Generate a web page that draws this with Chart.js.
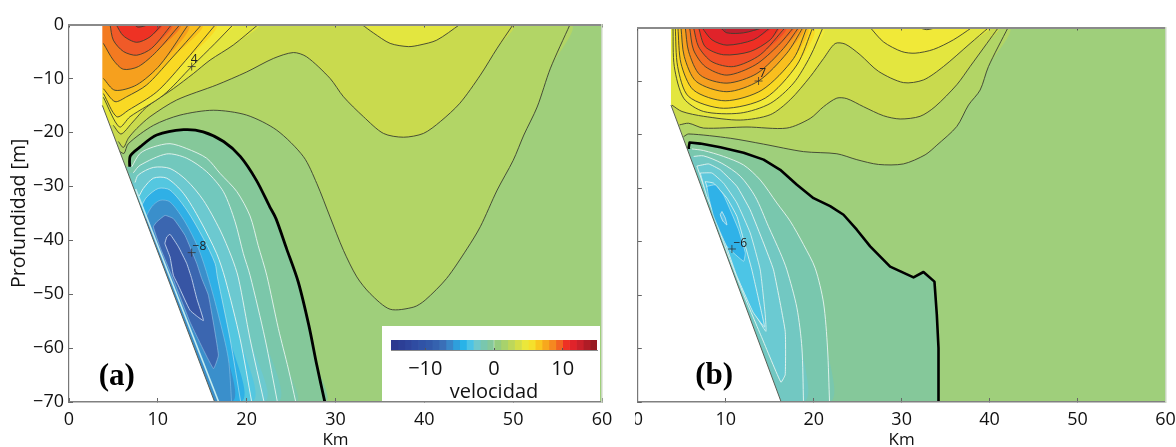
<!DOCTYPE html>
<html><head><meta charset="utf-8">
<style>
html,body{margin:0;padding:0;background:#fff;overflow:hidden;width:1176px;height:447px}
canvas{position:absolute;display:block}
#cA{left:0;top:0}
#cB{left:633px;top:0;clip-path:inset(0 0 0 2px)}
#cC{left:382px;top:326px;background:#fff}
</style>
<script src="https://cdn.jsdelivr.net/npm/chart.js@4/dist/chart.umd.min.js"></script>
</head><body>
<canvas id="cA" width="625" height="447"></canvas>
<canvas id="cB" width="543" height="447"></canvas>
<canvas id="cC" width="218" height="75"></canvas>
<script>
// ---------- axis ticks ----------
const xTicks=[0,10,20,30,40,50,60];
const yTicks=[0,-10,-20,-30,-40,-50,-60,-70];
const barTicks=[-10,0,10];
const axisFont='"Open Sans"';
// ---------- panel (a) : contours [km, depth m] ----------
const aBath=[[3.75,-15],[16.4,-70]];
const aShelf=[[7.5,-30.5],[16.85,-70]];
const aMask=[[3.75,-15],[16.4,-70],[0,-70],[0,0],[3.75,0]];
const aP1=[[5.74,-23.6],[6.2,-23.9],[6.68,-22.1],[9.5,-18.7],[12.5,-16.8],[16.25,-15.9],[20,-16.8],[23.39,-19.6],[26.39,-24.5],[27.9,-29.5],[29.39,-35.7],[30.9,-41.9],[32.4,-46.8],[33.9,-49.9],[36.15,-52.8],[38.8,-52.4],[40.1,-51.1],[42.5,-47.1],[44.8,-41.6],[46.3,-37.5],[48.2,-30.7],[50,-25.2],[51.2,-20.5],[52.7,-15.3],[54.2,-8.1],[56.4,0]];
const aP2=[[5.56,-21.7],[6.12,-22.8],[6.68,-21.1],[7.62,-19.3],[9.12,-17.1],[12.12,-14],[16.63,-11.2],[20,-8.8],[23,-6.3],[25.26,-5.2],[26.76,-6],[29.39,-10],[30.9,-13.4],[33.15,-17.1],[35.4,-20.2],[37.65,-20.9],[39.9,-20.2],[41.8,-18],[44,-14.6],[46.3,-9.4],[48.2,-4.4],[50,0]];
const aP3=[[4.99,-18.7],[5.86,-20.3],[7.06,-18.3],[8.75,-15.3],[11.75,-11.9],[14,-9.1],[15.88,-6.6],[18.5,-3.8],[21.3,0]];
const aP3b=[[32.96,0],[34.3,-1.6],[36.15,-3.5],[38.2,-4.1],[39.5,-3.8],[41.4,-2.9],[44,0]];
const aP4=[[3.87,-13.5],[5.67,-19],[6.87,-17.1],[10.62,-13.1],[13.81,-7.8],[16.44,-3.5],[18.5,0]];
const aP5=[[3.87,-12.8],[5.37,-17.1],[6.68,-15.9],[9.87,-12.5],[12.69,-7.5],[16.5,0]];
const aP6=[[3.87,-11.9],[5.18,-14.3],[6.49,-13.4],[8.75,-11.2],[11.37,-6.6],[14.94,0]];
const aP7=[[3.87,-10],[5.18,-12.2],[7.62,-11.2],[10.25,-7.5],[13.44,0]];
const aP8=[[3.87,-3.5],[4.99,-6.6],[6.12,-8.3],[7.81,-7.8],[9.87,-5],[12.5,0]];
const aP9=[[4.62,0],[4.99,-2.9],[6.12,-5],[7.62,-5.7],[9.31,-4.4],[11.56,0]];
const aP10=[[5.3,0],[6.12,-2.1],[7.62,-3.3],[9.12,-2.3],[10.44,0]];
const aP11=[[7.32,0],[7.81,-0.5],[9.05,0]];
const aZero=[[6.94,-28.2],[6.87,-24.5],[8,-22.7],[9.87,-20.5],[12.9,-19.5],[15.1,-19.9],[17.4,-21.7],[19.3,-24.5],[21.1,-28.9],[22.6,-33.8],[23.3,-36],[24.5,-41.6],[25.8,-47.7],[27,-55.8],[27.9,-63.2],[28.8,-70]];
const aN1=[[7.06,-26.4],[8,-23.9],[9.5,-22.7],[11.37,-22.1],[13.25,-23],[15.5,-24.8],[17,-27.6],[18.9,-31],[20.38,-35.5],[21.3,-41],[22.26,-46.5],[23.57,-56.4],[24.7,-63.9],[25.53,-70]];
const aN2=[[7.24,-27.5],[8,-26.1],[11,-24],[13.25,-24.8],[15.5,-27.3],[17.38,-31],[18.7,-36.6],[19.63,-42.5],[20.38,-46.5],[22.07,-58.3],[23.46,-70]];
const aN3=[[7.43,-29.3],[7.8,-27.9],[9.5,-26.5],[11.37,-26.7],[13.25,-28.9],[15.13,-32.6],[17,-38.1],[18.3,-43.1],[19.07,-47],[20.38,-58.3],[21.96,-70]];
const aN4=[[7.9,-31.8],[8.37,-30.4],[9.5,-28.5],[11,-28.5],[12.88,-31.3],[14.75,-36.3],[16.63,-42.5],[17.57,-47.1],[19.26,-58.3],[20.57,-70]];
const aN5=[[8.2,-33.5],[8.75,-32],[10.06,-30.4],[11.37,-30.7],[13.25,-34.4],[15.13,-39.7],[16.44,-44.3],[16.7,-46.8],[18.13,-58.3],[19.33,-70]];
const aN6=[[8.4,-36.5],[9.31,-33.8],[10.25,-32.6],[11.37,-32.9],[13.06,-36.6],[14.56,-41.5],[15.7,-47.1],[16.82,-53.9],[17.94,-62],[18.3,-70]];
const aN7=[[9.87,-36.6],[10.81,-35.4],[11.75,-36],[13.06,-39.1],[14.38,-44.3],[14.94,-47.1],[15.69,-50.2],[16.82,-61.3],[16.25,-63.8],[13.63,-55.2],[11.7,-47.1],[10.3,-41.5],[9.5,-37.5],[9.87,-36.6]];
const aN8=[[11,-39.4],[11.37,-38.9],[12.31,-41.2],[13.25,-44.3],[13.81,-47.1],[14.38,-50.8],[15.13,-54.9],[13.63,-53],[12.31,-48.4],[11.75,-46.5],[11.37,-43.1],[10.8,-40.6],[11,-39.4]];
const aMarks=[[13.81,-7.8],[13.81,-42.3]];
const aLabels=[[14.1,-6.5,'4'],[14.68,-41.1,'−8']];
const aPanel=[5.37,-65.4,'(a)'];
// ---------- panel (b) ----------
const bBath=[[3.77,-14.5],[16.3,-70]];
const bMask=[[3.77,-14.5],[16.3,-70],[0,-70],[0,0],[3.77,0]];
const bP1=[[5.21,-20.4],[5.78,-19.9],[10.51,-20.7],[14.3,-21.8],[18.84,-23.2],[22.63,-23.6],[24.9,-24.7],[27.37,-25.6],[30.2,-25.5],[32.67,-23.8],[34,-22],[36.27,-18.5],[37.6,-14.5],[38.92,-11.7],[39.87,-7.3],[42.1,0]];
const bP2=[[4.75,-18.2],[5.78,-17.9],[7.48,-18.8],[12.41,-18.6],[16.95,-18.8],[19.6,-17],[21.12,-14.8],[22.63,-13.2],[23.77,-13.3],[25.66,-14.8],[27.94,-16.5],[29.83,-17.1],[32.1,-16.6],[33.8,-14.8],[36.27,-10.7],[37.78,-7.3],[39.68,-3],[41,0]];
const bP3=[[3.88,-14.5],[5.02,-15.7],[7.48,-16.6],[11.65,-17.3],[15.06,-16.3],[17.33,-13.5],[19.6,-9.2],[21.12,-5.8],[22.44,-3],[23.58,-3.1],[25.28,-5.1],[27.37,-8.2],[30.2,-10.3],[32.48,-9.8],[34.75,-7.3],[37.78,-3],[39.9,0]];
const bBlob4=[[26.42,0],[27.94,-2.7],[30.02,-4.5],[31.53,-4.8],[33.62,-4.1],[35.89,-2.3],[38,0]];
const bBlob5=[[31.91,0],[32.86,-0.4],[34,0]];
const bJ=[[4,0],[4.15,-7.3],[5.21,-13.2],[7.48,-15.7],[11.65,-16],[15.06,-14.2],[17.71,-10.4],[19.6,-5.4],[21.05,0]];
const bI=[[4.26,0],[4.53,-7.3],[5.78,-12.9],[9.75,-15.1],[14.49,-13.2],[18.09,-7],[19.9,0]];
const bH=[[4.56,0],[4.91,-6.7],[6.34,-11.7],[9.94,-13.7],[14.11,-11.7],[17.71,-5.8],[19.22,0]];
const bG=[[4.91,0],[5.28,-5.4],[6.65,-10.1],[10.13,-12],[13.73,-10],[16.95,-4.8],[18.78,0]];
const bF=[[5.4,0],[5.78,-4.5],[7.1,-8.9],[10.13,-10.4],[13.54,-8.6],[16.57,-3.9],[18.28,0]];
const bE=[[5.89,0],[6.34,-4.2],[7.67,-7.3],[10.13,-8.9],[13.35,-7],[16,-3.3],[17.71,0]];
const bD=[[6.34,0],[6.91,-3.6],[8.43,-6.4],[10.89,-7.3],[13.92,-5.1],[16.76,0]];
const bC=[[6.91,0],[7.67,-3.6],[9.75,-5.1],[12.78,-4.5],[15.06,-2.3],[16,0]];
const bB=[[7.29,0],[8.43,-2.3],[10.13,-3.3],[13.16,-2.3],[15.06,0]];
const bA=[[9.38,0],[10.13,-1],[12.03,-1],[14.3,0]];
const bZero=[[8.16,-34.1],[6.53,-27.2],[5.78,-22.5],[5.89,-21.5],[7.1,-21.7],[9.38,-22.4],[12.03,-23.4],[14.3,-24.7],[16.19,-26.6],[18.09,-29.4],[19.98,-31.9],[21.87,-33.4],[23.39,-35],[24.9,-37.8],[26.42,-40.9],[28.69,-44.7],[31.35,-46.7],[32.48,-45.7],[33.73,-47.5],[34,-53.7],[34.19,-59.9],[34.19,-70]];
const bN1=[[6.16,-22.7],[7.48,-23],[9.75,-24.1],[12.03,-25.7],[13.92,-28.5],[15.81,-32.8],[17.33,-36.2],[18.85,-40.6],[20.17,-45],[21.12,-51.5],[21.57,-59.9],[21.8,-70]];
const bN2=[[6.35,-24.1],[7.48,-24],[9.57,-25.4],[11.65,-27.8],[13.35,-31.6],[14.86,-37.2],[16.2,-42.1],[16.95,-45.3],[18.09,-52.4],[18.66,-59.9],[18.84,-70]];
const bN3=[[6.72,-25.9],[8.05,-25.5],[9.38,-26.6],[11.27,-29.7],[12.78,-34.1],[14.3,-40.3],[15.43,-45.3],[16.76,-56.8],[16.76,-64.9],[16.27,-66.3],[14.11,-58],[12.03,-49.9],[10.13,-41.9],[8.24,-33.1],[6.72,-25.9]];
const bN4=[[7.1,-27.2],[8.43,-27.2],[9.75,-29.1],[11.27,-32.8],[12.78,-38.4],[13.92,-45.3],[14.49,-53.7],[14.56,-56.8],[13.16,-53],[11.27,-46.2],[9.57,-38.1],[7.86,-31.6],[7.1,-27.2]];
const bN5=[[7.67,-28.8],[8.62,-29.1],[10.13,-31.9],[11.27,-35.3],[12.03,-39.7],[12.97,-45.3],[14.1,-53.5],[14.4,-56],[13.1,-53.2],[11.2,-46.2],[9.5,-38.1],[7.67,-28.8]];
const bN6=[[7.86,-29.7],[8.81,-29.4],[9.75,-31.3],[10.51,-34.1],[11.46,-37.8],[12.22,-42.1],[12.03,-43.7],[10.13,-40.9],[8.62,-35.3],[8.05,-31.6],[7.86,-29.7]];
const bN7=[[9.57,-34.4],[9.94,-35.6],[10.13,-36.9],[9.68,-36.2],[9.38,-35],[9.57,-34.4]];
const bMarks=[[13.73,-10],[10.7,-41.4]];
const bLabels=[[14.2,-8.7,'7'],[11.65,-40.3,'−6']];
const bPanel=[8.69,-65.2,'(b)'];
// ---------- corners of the plotted section ----------
const sectionBox=[[0,0],[60,0],[60,-70],[0,-70]];
// ---------- colour bar ----------
const barLevels=[-15,-14,-13,-12,-11,-10,-9,-8,-7,-6,-5,-4,-3,-2,-1,0,1,2,3,4,5,6,7,8,9,10,11,12,13,14,15];
const barColors=['#2b3990','#2c3f96','#2e459c','#2f4ca2','#3053a6','#3259a9','#3562af','#3a6fb7','#3a86c8','#2f9fdc','#29b3e8','#4cc3e6','#6fc8cc','#79c7ae','#85c89a','#95cc7f','#a8d26c','#bdd75a','#d4de48','#ebe73a','#f5e02c','#f9c61f','#f7a81d','#f58820','#f26322','#ee3124','#e0232a','#c9202a','#b01c26','#981a22'];

const pts=a=>a.map(p=>({x:p[0],y:p[1]}));
const DARK='#3b4030',WHITE='#e9f5f0';
function builder(){
  const ds=[];
  const base={pointRadius:0,pointHitRadius:0,showLine:true,spanGaps:true};
  return {ds,
    fill(a,color,tension){ds.push({...base,type:'line',data:pts(a),fill:'shape',backgroundColor:color,borderWidth:0,borderColor:'transparent',tension:tension||0});},
    line(a,color,w,tension){ds.push({...base,type:'line',data:pts(a),fill:false,borderColor:color,borderWidth:w,tension:tension||0,borderJoinStyle:'round'});},
    top(a,color){ // contour region that closes along the surface
      this.fill(a.concat([[0,0],[0,a[0][1]]]),color,.28);this.line(a,DARK,.9,.28);},
    blob(a,color){this.fill(a,color,.28);this.line(a,DARK,.9,.28);},
    deep(a,color,lc,w,t){ // region that closes along the bottom
      this.fill(a.concat([[0,-70],[0,a[0][1]]]),color,t===undefined?.28:t);this.line(a,lc,w,t===undefined?.28:t);},
    closed(a,color,lc,w){this.fill(a,color,.12);this.line(a,lc,w,.12);},
    marks(a){ds.push({type:'line',data:pts(a),showLine:false,pointStyle:'cross',pointRadius:4,borderColor:'#333',borderWidth:.8,pointBorderColor:'#333',pointBorderWidth:.8});}
  };
}
const A=builder();
A.fill(sectionBox,'#9fcf7b');
A.top(aP1,'#b2d566');A.top(aP2,'#c9da4e');A.top(aP3,'#e3e63f');A.blob(aP3b,'#e3e63f');
A.top(aP4,'#f1e938');A.top(aP5,'#f9d924');A.top(aP6,'#f9bf1e');A.top(aP7,'#f6a01e');
A.top(aP8,'#f37a21');A.top(aP9,'#f05a28');A.top(aP10,'#ee3224');A.top(aP11,'#d62a28');
A.deep(aZero,'#85c89a','#000',2.8);
A.deep(aN1,'#7bc7aa',WHITE,.9);A.deep(aN2,'#72c8bd',WHITE,.9);A.deep(aN3,'#6cc9d0',WHITE,.9);
A.deep(aN4,'#54c7e0',WHITE,.9);A.deep(aN5,'#2fb0e6',WHITE,.5);A.deep(aN6,'#3a8fcb','#9ccbe8',.5);
A.closed(aN7,'#3b66b0','#9cc0e4',.6);A.closed(aN8,'#3755a4','#c4d4ec',.9);
A.fill(aMask,'#ffffff');A.line(aShelf,'#c4ecee',1.6);A.line(aBath,'#5a5f55',1);
A.marks(aMarks);

const B=builder();
B.fill(sectionBox,'#9fcf7b');
B.top(bP1,'#b2d566');B.top(bP2,'#c9da4e');B.top(bP3,'#e3e63f');
B.blob(bBlob4,'#f1e938');B.blob(bBlob5,'#f5e02c');
B.top(bJ,'#f1e938');B.top(bI,'#f9d924');B.top(bH,'#f9bf1e');B.top(bG,'#f6a01e');B.top(bF,'#f37f21');
B.top(bE,'#f26a22');B.top(bD,'#f04e27');B.top(bC,'#ee2f24');B.top(bB,'#e0232a');B.top(bA,'#bf1e2e');
B.deep(bZero,'#85c89a','#000',2.6,0);
B.deep(bN1,'#79c7ae',WHITE,.9);B.deep(bN2,'#72c8c2',WHITE,.9);
B.closed(bN3,'#6bcad2',WHITE,.9);B.closed(bN4,'#5ec8dc',WHITE,.8);B.closed(bN5,'#4cc5e6',WHITE,.8);
B.closed(bN6,'#2fb2e8',WHITE,.5);B.closed(bN7,'#58bfe8',WHITE,.7);
B.fill(bMask,'#ffffff');B.line(bBath,'#5a5f55',1);
B.marks(bMarks);

const textPlugin=(labels,panel)=>({id:'txt',afterDatasetsDraw(c){
  const g=c.ctx,x=c.scales.x,y=c.scales.y;
  g.save();g.textAlign='center';g.textBaseline='middle';
  g.fillStyle='#222';g.font='12px '+axisFont;
  labels.forEach(l=>g.fillText(l[2],x.getPixelForValue(l[0]),y.getPixelForValue(l[1])));
  g.fillStyle='#000';g.font='bold 31px "Liberation Serif"';
  g.fillText(panel[2],x.getPixelForValue(panel[0]),y.getPixelForValue(panel[1]));
  g.restore();}});
const fmt=v=>v<0?'−'+(-v):String(v);
function options(leftW,showY,padding){
  return {responsive:false,animation:false,devicePixelRatio:1,
    layout:{padding},
    events:[],
    plugins:{legend:{display:false},tooltip:{enabled:false},title:{display:false}},
    elements:{line:{capBezierPoints:true}},
    scales:{
      x:{type:'linear',position:'bottom',min:0,max:60,
        afterBuildTicks:s=>{s.ticks=xTicks.map(v=>({value:v}));},
        afterFit:s=>{s.height=45;s.paddingLeft=0;s.paddingRight=0;},
        grid:{drawOnChartArea:false,tickLength:-4,color:'#666',z:3,tickWidth:1},
        border:{color:'#808080',width:1.5,z:3},
        ticks:{color:'#111',font:{family:axisFont,size:18},padding:11,maxRotation:0,autoSkip:false,callback:fmt},
        title:{display:true,text:'Km',color:'#111',font:{family:axisFont,size:17},padding:{top:0,bottom:-3}}},
      y:{type:'linear',position:'left',min:-70,max:0,
        afterBuildTicks:s=>{s.ticks=yTicks.map(v=>({value:v}));},
        afterFit:s=>{s.width=leftW;s.paddingTop=0;s.paddingBottom=0;},
        grid:{drawOnChartArea:false,tickLength:-4,color:'#666',z:3,tickWidth:1},
        border:{color:'#777',width:1.2,z:3},
        ticks:{display:showY,color:'#111',font:{family:axisFont,size:18},padding:9,autoSkip:false,callback:fmt},
        title:{display:showY,text:'Profundidad [m]',color:'#111',font:{family:axisFont,size:19.5},padding:{top:8,bottom:0}}},
      xTop:{type:'linear',axis:'x',position:'top',min:0,max:60,
        afterBuildTicks:s=>{s.ticks=xTicks.map(v=>({value:v}));},
        afterFit:s=>{s.height=0;},
        grid:{drawOnChartArea:false,tickLength:-3,color:'#555',z:3},
        border:{color:'#8a8a8a',width:2,z:3},ticks:{display:false}},
      yRight:{type:'linear',axis:'y',position:'right',min:-70,max:0,
        afterFit:s=>{s.width=0;},
        grid:{drawOnChartArea:false,drawTicks:false},
        border:{color:'#c9d6c0',width:1.5,z:3},ticks:{display:false}}
    }};
}
new Chart(document.getElementById('cA'),{type:'line',data:{datasets:A.ds.slice().reverse()},
  options:options(69,true,{top:24.5,right:23,left:0,bottom:0}),plugins:[textPlugin(aLabels,aPanel)]});
new Chart(document.getElementById('cB'),{type:'line',data:{datasets:B.ds.slice().reverse()},
  options:options(0.5,false,{top:27.5,right:10.5,left:0,bottom:0}),plugins:[textPlugin(bLabels,bPanel)]});
new Chart(document.getElementById('cC'),{type:'bar',
  data:{labels:['velocidad'],datasets:barColors.map((c,i)=>({data:[[barLevels[i],barLevels[i+1]]],backgroundColor:c,borderWidth:0,barPercentage:1,categoryPercentage:1,grouped:false}))},
  options:{indexAxis:'y',responsive:false,animation:false,devicePixelRatio:1,events:[],
    layout:{padding:{top:14,left:9,right:3,bottom:0}},
    plugins:{legend:{display:false},tooltip:{enabled:false}},
    scales:{
      x:{type:'linear',min:-15,max:15,
        afterBuildTicks:s=>{s.ticks=barTicks.map(v=>({value:v}));},
        afterFit:s=>{s.height=51;s.paddingLeft=0;s.paddingRight=0;},
        grid:{drawOnChartArea:false,tickLength:-2,color:'#555',z:3},
        border:{color:'#8a8a8a',width:1,z:3},
        ticks:{color:'#111',font:{family:axisFont,size:20},padding:9,maxRotation:0,autoSkip:false,callback:fmt},
        title:{display:true,text:'velocidad',color:'#111',font:{family:axisFont,size:20},padding:{top:0,bottom:-3}}},
      y:{type:'category',display:false}
    }}});
</script>
</body></html>
